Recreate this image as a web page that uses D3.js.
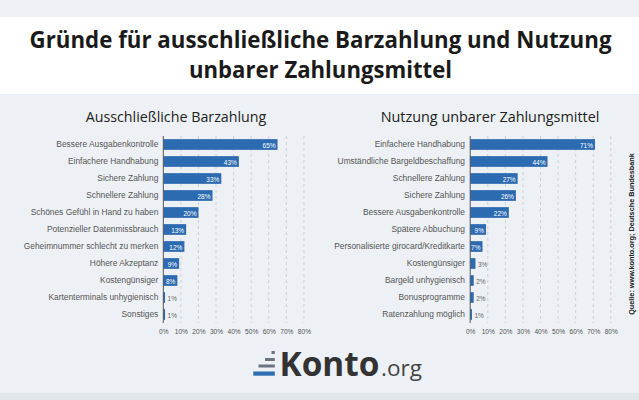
<!DOCTYPE html>
<html><head><meta charset="utf-8">
<script src="https://cdn.jsdelivr.net/npm/d3@7"></script>
<style>html,body{margin:0;padding:0;background:#edf1f5;}svg{display:block;}</style>
</head><body>
<script>
const titleLines = ["Gründe für ausschließliche Barzahlung und Nutzung", "unbarer Zahlungsmittel"];
const leftTitle = "Ausschließliche Barzahlung";
const leftCategories = ["Bessere Ausgabenkontrolle","Einfachere Handhabung","Sichere Zahlung","Schnellere Zahlung","Schönes Gefühl in Hand zu haben","Potenzieller Datenmissbrauch","Geheimnummer schlecht zu merken","Höhere Akzeptanz","Kostengünsiger","Kartenterminals unhygienisch","Sonstiges"];
const leftValues = [65,43,33,28,20,13,12,9,8,1,1];
const rightTitle = "Nutzung unbarer Zahlungsmittel";
const rightCategories = ["Einfachere Handhabung","Umständliche Bargeldbeschaffung","Schnellere Zahlung","Sichere Zahlung","Bessere Ausgabenkontrolle","Spätere Abbuchung","Personalisierte girocard/Kreditkarte","Kostengünsiger","Bargeld unhygienisch","Bonusprogramme","Ratenzahlung möglich"];
const rightValues = [71,44,27,26,22,9,7,3,2,2,1];
const tickValues = [0,10,20,30,40,50,60,70,80];
const sourceText = "Quelle: www.konto.org; Deutsche Bundesbank";

const W = 639, H = 400;
const svg = d3.select("body").append("svg").attr("width", W).attr("height", H);
svg.append("rect").attr("width", W).attr("height", H).attr("fill", "#edf1f5");
svg.append("rect").attr("y", 17).attr("width", W).attr("height", 77).attr("fill", "#ffffff");
svg.append("rect").attr("y", 393).attr("width", W).attr("height", 7).attr("fill", "#e1e6ea");

function fit(sel, target) {
  const w = sel.node().getComputedTextLength();
  const fs = parseFloat(sel.attr("font-size"));
  sel.attr("font-size", fs * target / w);
}

// Main title
const tl = svg.append("g").attr("font-family", "'Open Sans', 'Noto Sans', sans-serif").attr("font-weight", "bold").attr("fill", "#1a1a1a").attr("text-anchor", "middle");
const tw = [582, 263];
titleLines.forEach((t, i) => {
  tl.append("text").attr("x", 320.5).attr("y", 48 + i * 30).attr("font-size", 23)
    .attr("textLength", tw[i]).attr("lengthAdjust", "spacingAndGlyphs").text(t);
});

const BAR = "#2c6bb1";
function chart(x0, labelRight, titleCx, titleW, title, cats, vals) {
  const g = svg.append("g");
  const x = d3.scaleLinear().domain([0, 80]).range([x0, x0 + 140.6]);
  const y = d3.scaleBand().domain(cats).range([136, 323]).paddingInner(0.37).paddingOuter(0.185);
  const t = g.append("text").attr("x", titleCx).attr("y", 121.5).attr("text-anchor", "middle")
    .attr("font-family", "'Open Sans', sans-serif").attr("font-size", 16).attr("fill", "#222").text(title);
  fit(t, titleW);
  // grid
  g.selectAll("line.grid").data(tickValues.slice(1)).join("line")
    .attr("x1", d => x(d)).attr("x2", d => x(d)).attr("y1", 136).attr("y2", 323)
    .attr("stroke", "#c4c7cb").attr("stroke-width", 0.8).attr("stroke-dasharray", "3,3");
  // x axis labels
  const ax = g.append("g").attr("transform", "translate(0,323)")
    .call(d3.axisBottom(x).tickValues(tickValues).tickFormat(d => d + "%").tickSize(0).tickPadding(6));
  ax.select(".domain").remove();
  ax.selectAll("text").attr("font-family", "'Liberation Sans', Arial, sans-serif").attr("font-size", 6.6).attr("fill", "#555");
  // bars
  g.selectAll("rect.bar").data(vals).join("rect")
    .attr("x", x(0)).attr("y", (d, i) => y(cats[i])).attr("width", d => x(d) - x(0)).attr("height", y.bandwidth())
    .attr("fill", BAR);
  // category labels
  g.selectAll("text.cat").data(cats).join("text")
    .attr("x", labelRight).attr("y", d => y(d) + y.bandwidth() / 2).attr("dy", "0.35em")
    .attr("text-anchor", "end").attr("font-family", "'Liberation Sans', Arial, sans-serif")
    .attr("font-size", 8.4).attr("fill", "#555").text(d => d);
  // value labels
  g.selectAll("text.val").data(vals).join("text")
    .attr("x", d => d >= 5 ? x(d) - 2 : x(d) + 2.5)
    .attr("y", (d, i) => y(cats[i]) + y.bandwidth() / 2 + 1).attr("dy", "0.35em")
    .attr("text-anchor", d => d >= 5 ? "end" : "start")
    .attr("font-family", "'Liberation Sans', Arial, sans-serif").attr("font-size", 6.5)
    .attr("fill", d => d >= 5 ? "#ffffff" : "#666").text(d => d + "%");
  // axis line
  g.append("line").attr("x1", x(0)).attr("x2", x(0)).attr("y1", 136).attr("y2", 323)
    .attr("stroke", "#555").attr("stroke-width", 1);
}
chart(163.3, 158.3, 176, 181, leftTitle, leftCategories, leftValues);
chart(470.2, 465, 490, 219, rightTitle, rightCategories, rightValues);

// source
const src = svg.append("text").attr("transform", "translate(634,234) rotate(-90)").attr("text-anchor", "middle")
  .attr("font-family", "'Liberation Sans', Arial, sans-serif").attr("font-weight", "bold").attr("font-size", 8)
  .attr("fill", "#222").text(sourceText);
fit(src, 162);

// logo
const logo = svg.append("g");
const iconBars = [{x0: 271.5, y: 351, h: 3, c: "#6b7384"}, {x0: 265, y: 358, h: 3, c: "#6b7384"}, {x0: 258.5, y: 364.5, h: 3, c: "#6b7384"}, {x0: 253.3, y: 371.5, h: 4.2, c: "#2f6db5"}];
logo.selectAll("rect").data(iconBars).join("rect")
  .attr("x", d => d.x0).attr("y", d => d.y).attr("width", d => 274.8 - d.x0).attr("height", d => d.h).attr("fill", d => d.c);
const k = logo.append("text").attr("x", 279.5).attr("y", 376).attr("font-family", "'Open Sans', sans-serif")
  .attr("font-weight", "bold").attr("font-size", 33).attr("fill", "#333").text("Konto");
fit(k, 100);
const o = logo.append("text").attr("x", 381).attr("y", 376).attr("font-family", "'Open Sans', sans-serif")
  .attr("font-size", 23).attr("fill", "#444").text(".org");
fit(o, 41);
</script>
</body></html>
